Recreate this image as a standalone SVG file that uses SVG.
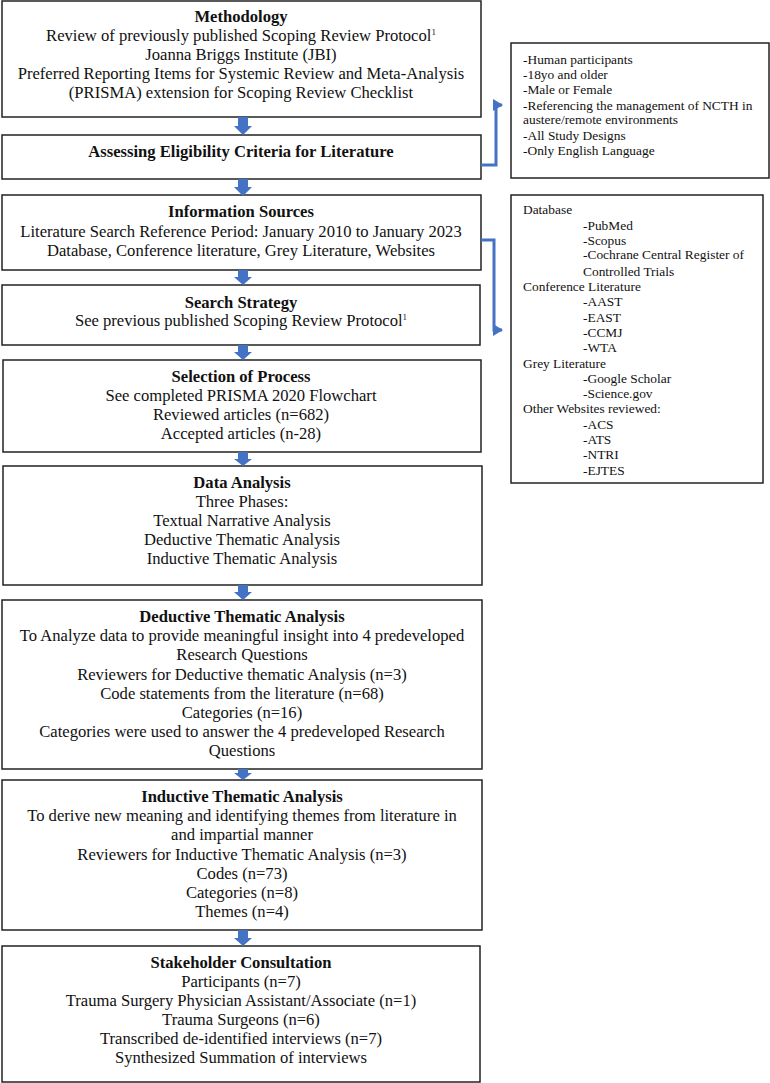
<svg xmlns="http://www.w3.org/2000/svg" width="770" height="1083" viewBox="0 0 770 1083">
<style>
.box{fill:#fff;stroke:#222;stroke-width:1.5}
.t{font-family:"Liberation Serif","Times New Roman",serif;font-size:16.6px;fill:#111;text-anchor:middle}
.b{font-weight:bold}
.s{font-family:"Liberation Serif","Times New Roman",serif;font-size:13.4px;fill:#111}
.sup{font-size:9px}
.down{fill:#4472C4}
.conn{fill:none;stroke:#4472C4;stroke-width:3}
</style>
<defs>
<marker id="ah" markerWidth="12" markerHeight="12" refX="9" refY="6" orient="auto" markerUnits="userSpaceOnUse">
<path d="M0,0 L10,6 L0,12 Z" fill="#4472C4"/>
</marker>
</defs>
<rect width="770" height="1083" fill="#fff"/>

<g id="methodology">
<rect class="box" x="2" y="1" width="479" height="116"/>
<text class="t b" x="241" y="22">Methodology</text>
<text class="t" x="241" y="41">Review of previously published Scoping Review Protocol<tspan class="sup" dy="-6">1</tspan></text>
<text class="t" x="241" y="60">Joanna Briggs Institute (JBI)</text>
<text class="t" x="241" y="79">Preferred Reporting Items for Systemic Review and Meta-Analysis</text>
<text class="t" x="241" y="98">(PRISMA) extension for Scoping Review Checklist</text>
</g>

<g id="eligibility">
<rect class="box" x="2" y="135" width="479" height="44"/>
<text class="t b" x="241" y="157">Assessing Eligibility Criteria for Literature</text>
</g>

<g id="sources">
<rect class="box" x="2" y="195" width="479" height="75"/>
<text class="t b" x="241" y="217">Information Sources</text>
<text class="t" x="241" y="237">Literature Search Reference Period: January 2010 to January 2023</text>
<text class="t" x="241" y="256">Database, Conference literature, Grey Literature, Websites</text>
</g>

<g id="strategy">
<rect class="box" x="2" y="285" width="478" height="60"/>
<text class="t b" x="241" y="308">Search Strategy</text>
<text class="t" x="241" y="326">See previous published Scoping Review Protocol<tspan class="sup" dy="-6">1</tspan></text>
</g>

<g id="selection">
<rect class="box" x="3" y="360" width="478" height="92"/>
<text class="t b" x="241" y="382">Selection of Process</text>
<text class="t" x="241" y="401">See completed PRISMA 2020 Flowchart</text>
<text class="t" x="241" y="420">Reviewed articles (n=682)</text>
<text class="t" x="241" y="439">Accepted articles (n-28)</text>
</g>

<g id="data-analysis">
<rect class="box" x="3" y="466" width="479" height="119"/>
<text class="t b" x="242" y="488">Data Analysis</text>
<text class="t" x="242" y="507">Three Phases:</text>
<text class="t" x="242" y="526">Textual Narrative Analysis</text>
<text class="t" x="242" y="545">Deductive Thematic Analysis</text>
<text class="t" x="242" y="564">Inductive Thematic Analysis</text>
</g>

<g id="deductive">
<rect class="box" x="2" y="600" width="480" height="169"/>
<text class="t b" x="242" y="622">Deductive Thematic Analysis</text>
<text class="t" x="242" y="641">To Analyze data to provide meaningful insight into 4 predeveloped</text>
<text class="t" x="242" y="660">Research Questions</text>
<text class="t" x="242" y="680">Reviewers for Deductive thematic Analysis (n=3)</text>
<text class="t" x="242" y="699">Code statements from the literature (n=68)</text>
<text class="t" x="242" y="718">Categories (n=16)</text>
<text class="t" x="242" y="737">Categories were used to answer the 4 predeveloped Research</text>
<text class="t" x="242" y="756">Questions</text>
</g>

<g id="inductive">
<rect class="box" x="2" y="780" width="480" height="150"/>
<text class="t b" x="242" y="802">Inductive Thematic Analysis</text>
<text class="t" x="242" y="821">To derive new meaning and identifying themes from literature in</text>
<text class="t" x="242" y="840">and impartial manner</text>
<text class="t" x="242" y="860">Reviewers for Inductive Thematic Analysis (n=3)</text>
<text class="t" x="242" y="879">Codes (n=73)</text>
<text class="t" x="242" y="898">Categories (n=8)</text>
<text class="t" x="242" y="917">Themes (n=4)</text>
</g>

<g id="stakeholder">
<rect class="box" x="2" y="946" width="478" height="136"/>
<text class="t b" x="241" y="968">Stakeholder Consultation</text>
<text class="t" x="241" y="987">Participants (n=7)</text>
<text class="t" x="241" y="1006">Trauma Surgery Physician Assistant/Associate (n=1)</text>
<text class="t" x="241" y="1025">Trauma Surgeons (n=6)</text>
<text class="t" x="241" y="1044">Transcribed de-identified interviews (n=7)</text>
<text class="t" x="241" y="1063">Synthesized Summation of interviews</text>
</g>

<g id="criteria">
<rect class="box" x="511" y="43" width="258" height="135"/>
<text class="s" x="523" y="64">-Human participants</text>
<text class="s" x="523" y="79">-18yo and older</text>
<text class="s" x="523" y="94">-Male or Female</text>
<text class="s" x="523" y="110">-Referencing the management of NCTH in</text>
<text class="s" x="523" y="124">austere/remote environments</text>
<text class="s" x="523" y="140">-All Study Designs</text>
<text class="s" x="523" y="155">-Only English Language</text>
</g>

<g id="source-list">
<rect class="box" x="511" y="195" width="252" height="288"/>
<text class="s" x="523" y="214">Database</text>
<text class="s" x="583" y="230">-PubMed</text>
<text class="s" x="583" y="245">-Scopus</text>
<text class="s" x="583" y="259">-Cochrane Central Register of</text>
<text class="s" x="583" y="276">Controlled Trials</text>
<text class="s" x="523" y="291">Conference Literature</text>
<text class="s" x="583" y="306">-AAST</text>
<text class="s" x="583" y="322">-EAST</text>
<text class="s" x="583" y="337">-CCMJ</text>
<text class="s" x="583" y="352">-WTA</text>
<text class="s" x="523" y="368">Grey Literature</text>
<text class="s" x="583" y="383">-Google Scholar</text>
<text class="s" x="583" y="398">-Science.gov</text>
<text class="s" x="523" y="413">Other Websites reviewed:</text>
<text class="s" x="583" y="429">-ACS</text>
<text class="s" x="583" y="444">-ATS</text>
<text class="s" x="583" y="459">-NTRI</text>
<text class="s" x="583" y="475">-EJTES</text>
</g>

<g id="connectors">
<polygon class="down" points="238,117 248,117 248,126 252,126 243,135 234,126 238,126"/>
<polygon class="down" points="238,179 248,179 248,187 252,187 243,196 234,187 238,187"/>
<polygon class="down" points="238,270 248,270 248,277 252,277 243,285 234,277 238,277"/>
<polygon class="down" points="238,345 248,345 248,352 252,352 243,360 234,352 238,352"/>
<polygon class="down" points="238,452 248,452 248,459 252,459 243,466 234,459 238,459"/>
<polygon class="down" points="238,585 248,585 248,592 252,592 243,600 234,592 238,592"/>
<polygon class="down" points="238,769 248,769 248,773 252,773 243,780 234,773 238,773"/>
<polygon class="down" points="238,930 248,930 248,938 252,938 243,946 234,938 238,938"/>
<polyline class="conn" points="481,165 496,165 496,105 502,105" marker-end="url(#ah)"/>
<polyline class="conn" points="481,240 494,240 494,330 502,330" marker-end="url(#ah)"/>
</g>
</svg>
